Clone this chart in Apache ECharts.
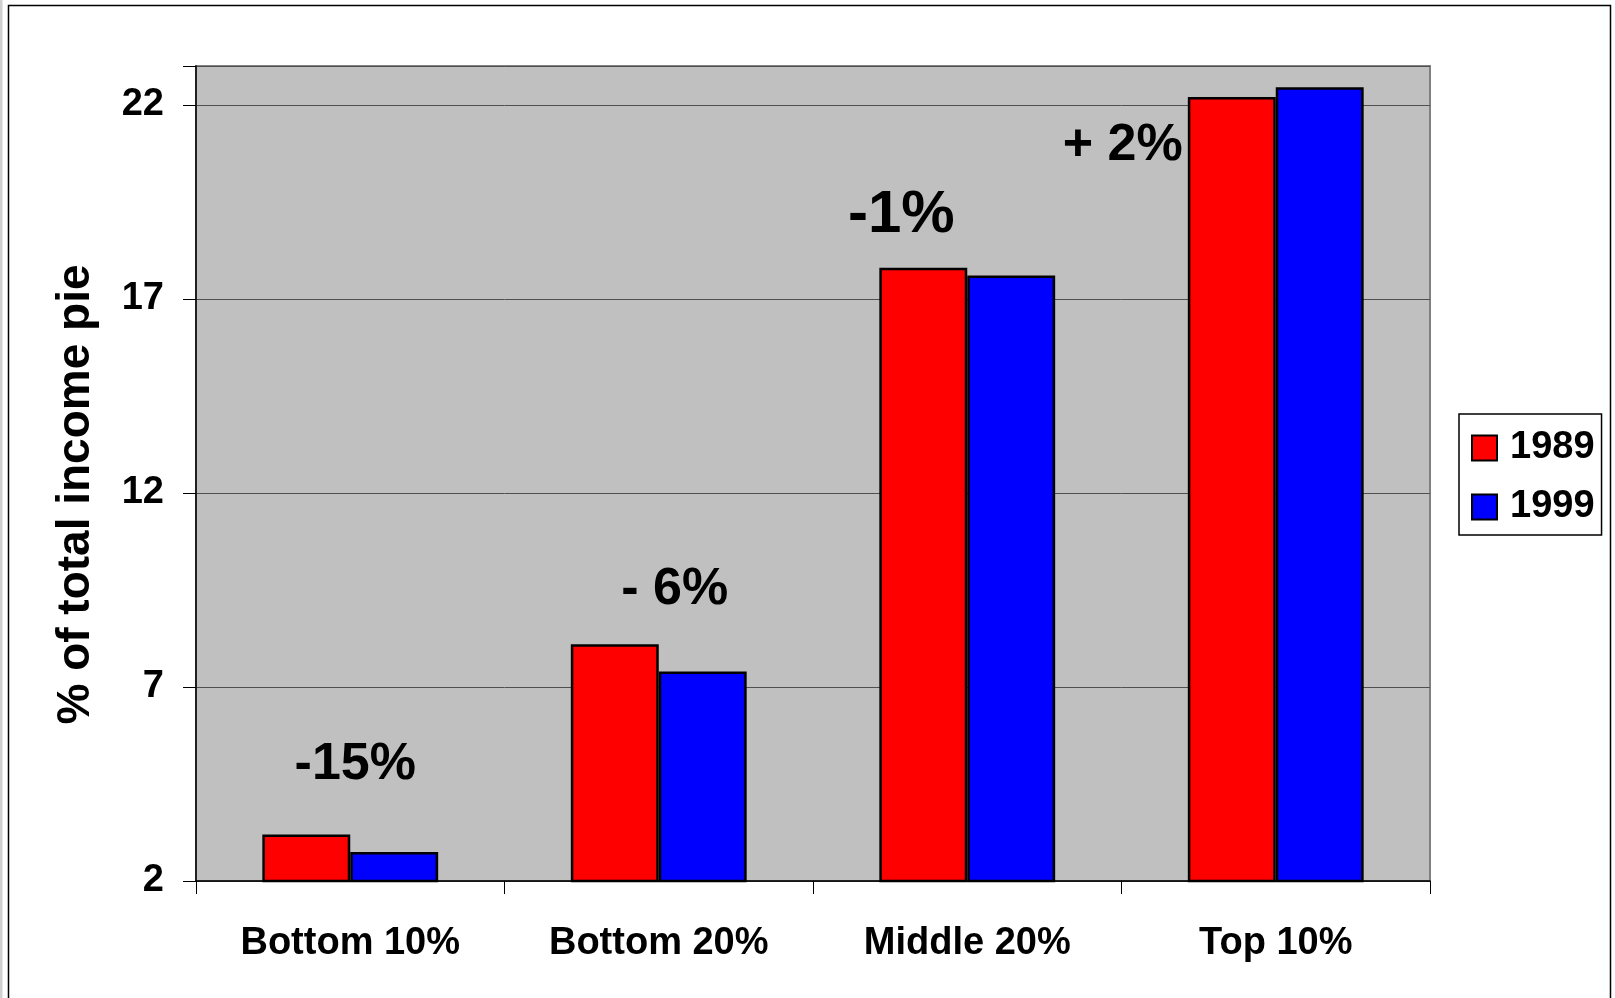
<!DOCTYPE html>
<html>
<head>
<meta charset="utf-8">
<script src="https://cdn.jsdelivr.net/npm/echarts@6/dist/echarts.min.js"></script>
<style>
html,body{margin:0;padding:0;background:#fff;}
#chart{width:1615px;height:998px;}
</style>
</head>
<body>
<div id="chart"></div>
<script>
const categories = ['Bottom 10%', 'Bottom 20%', 'Middle 20%', 'Top 10%'];
const values1989 = [3.2, 8.1, 17.8, 22.2];
const values1999 = [2.75, 7.4, 17.6, 22.45];
const seriesNames = ['1989', '1999'];
const changeLabels = ['-15%', '- 6%', '-1%', '+ 2%'];
const changeLabelValues = [5.0, 9.5, 19.15, 20.95];
const yTicks = [2, 7, 12, 17, 22];

const labelOffsets = [[49, 0], [60, 0], [-22, 0], [-109, 0]];
const labelSizes = [52, 52, 60, 52];
const FONT = 'Liberation Sans, Arial, sans-serif';

const chart = echarts.init(document.getElementById('chart'));
chart.setOption({
  animation: false,
  backgroundColor: '#ffffff',
  graphic: [
    { type: 'rect', shape: { x: 8.5, y: 5.5, width: 1602, height: 1000 }, style: { fill: 'none', stroke: '#000', lineWidth: 1.5 }, silent: true },
    { type: 'rect', shape: { x: 0, y: 0, width: 2.5, height: 998 }, style: { fill: '#d0d0d0' }, silent: true }
  ],
  grid: {
    left: 196, top: 66, right: 185, bottom: 117,
    show: true, backgroundColor: '#c0c0c0', borderColor: '#808080', borderWidth: 2
  },
  legend: {
    orient: 'vertical',
    left: 1459, top: 414,
    width: 142,
    padding: [14, 7, 8, 12],
    backgroundColor: '#fff',
    borderColor: '#000', borderWidth: 1.5,
    itemWidth: 25, itemHeight: 25, itemGap: 19,
    icon: 'rect',
    data: seriesNames,
    textStyle: { fontFamily: FONT, fontWeight: 'bold', fontSize: 38, color: '#000', lineHeight: 40, padding: [0, 0, 0, 8] }
  },
  xAxis: {
    type: 'category',
    data: categories,
    axisLine: { lineStyle: { color: '#000', width: 1.5 } },
    axisTick: { show: true, length: 13, lineStyle: { color: '#000', width: 1 } },
    axisLabel: { fontFamily: FONT, fontWeight: 'bold', fontSize: 38, color: '#000', margin: 44 }
  },
  yAxis: {
    type: 'value',
    min: 2, max: 23, interval: 5,
    name: '% of total income pie',
    nameLocation: 'middle',
    nameGap: 97,
    nameRotate: 90,
    nameTextStyle: { fontFamily: FONT, fontWeight: 'bold', fontSize: 46, color: '#000', padding: [0, 0, 0, -42] },
    axisLine: { show: true, lineStyle: { color: '#000', width: 1.5 } },
    axisTick: { show: true, length: 13, lineStyle: { color: '#000' } },
    splitLine: { show: true, lineStyle: { color: '#505050', width: 1 } },
    axisLabel: {
      fontFamily: FONT, fontWeight: 'bold', fontSize: 38, color: '#000', margin: 32,
      formatter: function (v) { return yTicks.indexOf(v) >= 0 ? String(v) : ''; }
    }
  },
  series: [
    {
      name: seriesNames[0], type: 'bar', data: values1989,
      barGap: '0%', barCategoryGap: '43%',
      itemStyle: { color: '#ff0000', borderColor: '#000', borderWidth: 2.5 },
      markPoint: {
        symbol: 'rect', symbolSize: 0,
        label: { show: true, fontFamily: FONT, fontWeight: 'bold', fontSize: 52, color: '#000' },
        data: changeLabels.map(function (t, i) {
          return {
            coord: [i, changeLabelValues[i]],
            label: { formatter: t, offset: labelOffsets[i], position: 'inside', fontSize: labelSizes[i] }
          };
        })
      }
    },
    {
      name: seriesNames[1], type: 'bar', data: values1999,
      itemStyle: { color: '#0000ff', borderColor: '#000', borderWidth: 2.5 }
    }
  ]
});
</script>
</body>
</html>
